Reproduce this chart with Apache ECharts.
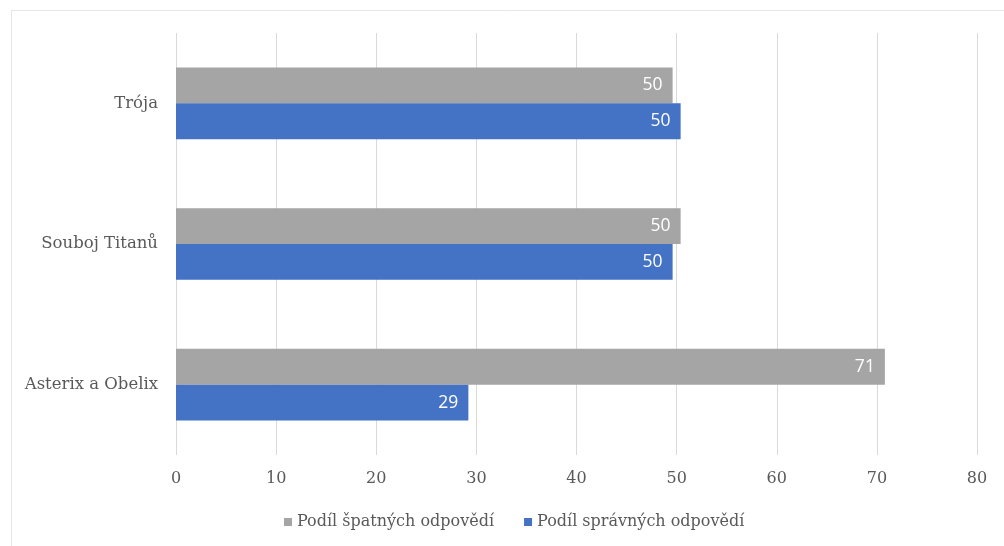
<!DOCTYPE html>
<html>
<head>
<meta charset="utf-8">
<script src="https://cdn.jsdelivr.net/npm/echarts@6/dist/echarts.min.js"></script>
<style>html,body{margin:0;padding:0;background:#fff}#c{width:1004px;height:546px}</style>
</head>
<body>
<div id="c"></div>
<script>
const categories = ['Asterix a Obelix', 'Souboj Titanů', 'Trója'];
const wrongShare = [70.8, 50.4, 49.6];
const correctShare = [29.2, 49.6, 50.4];
const seriesNames = ['Podíl špatných odpovědí', 'Podíl správných odpovědí'];
const xTicks = {min: 0, max: 80, interval: 10};

const serif = 'DejaVu Serif';
const chart = echarts.init(document.getElementById('c'));
const labelCfg = {
  show: true, position: 'insideRight', color: '#ffffff', fontSize: 17.5,
  fontFamily: 'Open Sans', distance: 10,
  formatter: p => Math.round(p.value)
};
chart.setOption({
  animation: false,
  backgroundColor: '#ffffff',
  graphic: [
    {type: 'line', shape: {x1: 11, y1: 10.5, x2: 1004, y2: 10.5}, style: {stroke: '#e6e6e6', lineWidth: 1}},
    {type: 'line', shape: {x1: 11.5, y1: 10, x2: 11.5, y2: 546}, style: {stroke: '#e6e6e6', lineWidth: 1}}
  ],
  grid: {left: 176, right: 27, top: 33, bottom: 91},
  legend: {
    data: seriesNames, bottom: 11, left: 279, itemWidth: 8, itemHeight: 8, itemGap: 30,
    icon: 'rect',
    textStyle: {fontFamily: serif, fontSize: 16, color: '#595959'}
  },
  xAxis: {
    type: 'value', min: xTicks.min, max: xTicks.max, interval: xTicks.interval,
    axisLine: {show: false}, axisTick: {show: false},
    splitLine: {lineStyle: {color: '#d9d9d9', width: 1}},
    axisLabel: {fontFamily: serif, fontSize: 16, color: '#595959', margin: 16}
  },
  yAxis: {
    type: 'category', data: categories,
    axisLine: {show: false}, axisTick: {show: false},
    axisLabel: {fontFamily: serif, fontSize: 16.5, color: '#595959', margin: 18}
  },
  series: [
    {name: seriesNames[0], type: 'bar', data: wrongShare, itemStyle: {color: '#a5a5a5'},
     barGap: '0%', barCategoryGap: '49%', label: labelCfg},
    {name: seriesNames[1], type: 'bar', data: correctShare, itemStyle: {color: '#4472c4'},
     barGap: '0%', barCategoryGap: '49%', label: labelCfg}
  ]
});
</script>
</body>
</html>
